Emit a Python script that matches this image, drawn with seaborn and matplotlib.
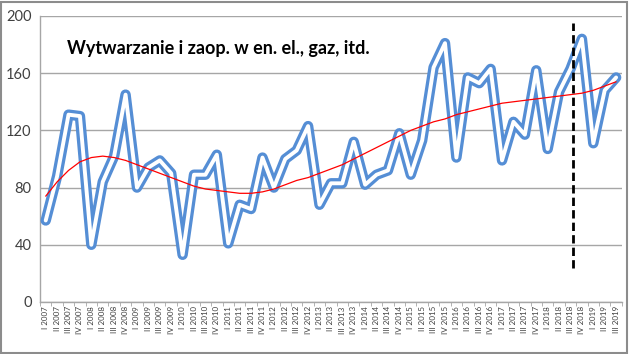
import matplotlib
matplotlib.use("Agg")
import matplotlib.pyplot as plt
import seaborn as sns

# kwartały I 2007 - III 2019
years = list(range(2007, 2020))
quarters = ["I", "II", "III", "IV"]
labels = [f"{q} {y}" for y in years for q in quarters][:51]

values = [57, 88, 131, 130, 40, 84, 102, 145, 80, 94,
          99, 90, 33, 89, 89, 103, 41, 68, 65, 101,
          80, 100, 106, 123, 68, 83, 83, 112, 82, 89,
          92, 118, 89, 113, 164, 181, 101, 157, 153, 163,
          99, 126, 117, 162, 107, 147, 163, 184, 111, 148,
          157]

# linia trendu (wielomianowa)
trend = [74, 84, 92, 98, 101, 102, 101, 99, 96, 93,
         90, 87, 84, 81, 79, 78, 77, 76, 76, 77,
         79, 82, 85, 87, 90, 93, 96, 100, 104, 108,
         112, 116, 120, 123, 126, 128, 131, 133, 135, 137,
         139, 140, 141, 142, 143, 144, 145, 146, 148, 151,
         154]

title = "Wytwarzanie i zaop. w en. el., gaz, itd."
marker_pos = 46.2
marker_range = (24, 195)

sns.set_style("white")
plt.rcParams["font.family"] = ["Lato", "DejaVu Sans"]

fig = plt.figure(figsize=(6.29, 3.54), dpi=100)
ax = fig.add_axes([0.0636, 0.1469, 0.925, 0.808])

pos = list(range(len(values)))
blue = "#558ED5"
sns.lineplot(x=pos, y=values, ax=ax, color=blue, linewidth=7.5, sort=False,
             solid_joinstyle="round", solid_capstyle="round", zorder=3)
sns.lineplot(x=pos, y=values, ax=ax, color="white", linewidth=2.8, sort=False,
             solid_joinstyle="round", solid_capstyle="round", zorder=4)
sns.lineplot(x=pos, y=trend, ax=ax, color="#FF0000", linewidth=0.9, sort=False, zorder=5)

ax.vlines(marker_pos, *marker_range, colors="black", linestyles=(0, (3, 1.5)),
          linewidth=2, zorder=6)

ax.set_xlim(-0.5, len(values) - 0.5)
ax.set_ylim(0, 200)
ax.set_yticks(range(0, 201, 40))
ax.yaxis.grid(True, color="#A6A6A6", linewidth=1)
ax.set_axisbelow(True)
ax.set_xticks(pos)
ax.set_xticklabels(labels, rotation=90, fontsize=5.8, color="#404040")
ax.set_xticks([p - 0.5 for p in pos] + [len(values) - 0.5], minor=True)
ax.tick_params(axis="x", which="major", length=0, pad=3)
ax.tick_params(axis="x", which="minor", length=3, color="#A6A6A6", bottom=True)
ax.tick_params(axis="y", length=0, labelsize=10.5, labelcolor="#404040", pad=6)

for side in ["top", "right"]:
    ax.spines[side].set_visible(False)
for side in ["left", "bottom"]:
    ax.spines[side].set_color("#A6A6A6")
    ax.spines[side].set_linewidth(1)

ax.text(0.047, 0.885, title, transform=ax.transAxes, fontsize=13,
        fontweight="bold", color="black", va="center", ha="left")

# ramka całego wykresu
fig.patches.append(plt.Rectangle((0.002, 0.004), 0.995, 0.99, transform=fig.transFigure,
                                 fill=False, edgecolor="#8C8C8C", linewidth=1.5))

fig.savefig("out.png", dpi=100)
